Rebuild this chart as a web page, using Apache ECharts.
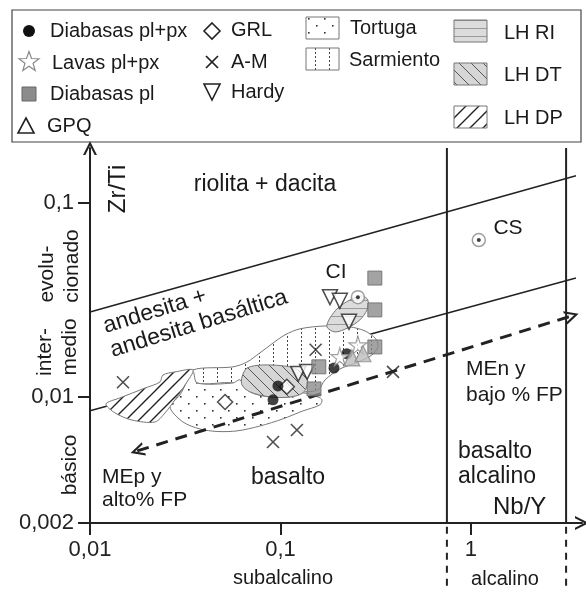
<!DOCTYPE html>
<html><head><meta charset="utf-8">
<script src="https://cdn.jsdelivr.net/npm/echarts@6/dist/echarts.min.js"></script>
<style>html,body{margin:0;padding:0;background:#fff}#c{width:586px;height:592px}</style>
</head><body><div id="c"></div>
<script>
// ---------- DATA (Nb/Y, Zr/Ti) ----------
const diabasasPlPx = [[0.097,0.0114],[0.0914,0.00966],[0.191,0.0141],[0.223,0.0167]];
const lavasPlPx    = [[0.205,0.0161],[0.255,0.0185]];
const diabasasPl   = [[0.313,0.041],[0.313,0.0281],[0.313,0.0181],[0.159,0.0143],[0.150,0.0110]];
const gpq          = [[0.237,0.0159],[0.271,0.0167]];
const grl          = [[0.0512,0.00942],[0.108,0.01128]];
const aM           = [[0.0149,0.0119],[0.0914,0.00586],[0.122,0.00676],[0.153,0.0175],[0.390,0.01346]];
const hardy        = [[0.182,0.0327],[0.205,0.0313],[0.229,0.0244],[0.124,0.01315],[0.138,0.01346]];
const refCI        = [[0.255,0.0327]];
const refCS        = [[1.10,0.0644]];

// field outlines, in log10(Nb/Y), log10(Zr/Ti)
const fieldLHDP_log = [[-1.916,-2.036],[-1.843,-2.005],[-1.711,-1.954],[-1.633,-1.923],[-1.617,-1.887],[-1.554,-1.871],[-1.459,-1.861],[-1.501,-1.938],[-1.554,-2.015],[-1.606,-2.082],[-1.659,-2.129],[-1.780,-2.119],[-1.869,-2.082]];
const fieldSarmiento_log = [[-1.459,-1.861],[-1.249,-1.845],[-1.176,-1.820],[-1.108,-1.773],[-1.039,-1.722],[-0.976,-1.680],[-0.898,-1.649],[-0.766,-1.634],[-0.635,-1.639],[-0.556,-1.660],[-0.499,-1.701],[-0.488,-1.742],[-0.520,-1.784],[-0.593,-1.820],[-0.688,-1.856],[-0.766,-1.912],[-0.803,-1.964],[-0.898,-1.974],[-1.160,-1.974],[-1.249,-1.928],[-1.438,-1.928]];
const fieldTortuga_log = [[-1.459,-1.871],[-1.438,-1.928],[-1.249,-1.928],[-1.213,-1.912],[-1.160,-1.974],[-1.055,-2.000],[-0.950,-2.000],[-0.882,-1.979],[-0.803,-2.000],[-0.782,-2.015],[-0.793,-2.041],[-0.882,-2.072],[-0.987,-2.113],[-1.108,-2.150],[-1.228,-2.175],[-1.333,-2.178],[-1.423,-2.165],[-1.512,-2.129],[-1.580,-2.052],[-1.528,-1.990]];
const fieldLHDT_log = [[-1.202,-1.897],[-1.176,-1.851],[-1.092,-1.835],[-0.950,-1.845],[-0.882,-1.876],[-0.856,-1.923],[-0.882,-1.979],[-0.950,-2.000],[-1.055,-2.000],[-1.160,-1.974],[-1.202,-1.938]];
const fieldLHRI_log = [[-0.756,-1.639],[-0.740,-1.593],[-0.698,-1.541],[-0.635,-1.500],[-0.572,-1.479],[-0.541,-1.500],[-0.546,-1.552],[-0.583,-1.603],[-0.646,-1.644],[-0.714,-1.665]];

// boundaries (Nb/Y, Zr/Ti)
const upperBoundary = [[0.01,0.0274],[3.56,0.138]];
const lowerBoundary = [[0.01,0.00848],[3.56,0.041]];
const upperTickDash = [[0.00473,0.0274],[0.01,0.0274]];
const lowerTickDash = [[0.00473,0.00848],[0.01,0.00848]];
const alkaliLine1 = [[0.748,0.00224],[0.748,0.192]];
const alkaliLine2 = [[3.16,0.00224],[3.16,0.192]];
const alkaliDash1 = [[0.748,0.00214],[0.748,0.00099]];
const alkaliDash2 = [[3.16,0.00214],[3.16,0.00099]];
const trendArrow  = [[0.0177,0.00527],[3.39,0.0262]];

// axes
const xTickVals = [0.01, 0.1, 1];
const xTickLabels = ['0,01','0,1','1'];
const yAxisBottom = 0.00224, yAxisTop = 0.192;
const yTickVals = [yAxisBottom, 0.01, 0.1];
const yTickLabels = ['0,002','0,01','0,1'];
const xAxisMin = 0.01, xAxisMax = 3.83;

// ---------- CHART ----------
const L = p => [Math.log10(p[0]), Math.log10(p[1])];
const FONT = 'Liberation Sans, Arial, sans-serif';
const chevron = 'path://M0,12 L6,0 L12,12 L10,12 L6,4 L2,12 Z';
const starPath = 'path://M50,2 L61,37 L98,37 L68,59 L79,95 L50,73 L21,95 L32,59 L2,37 L39,37 Z';
const xPath = 'path://M0,0 L10,10 M10,0 L0,10';

function pat(w,h,bg,draw){const c=document.createElement('canvas');c.width=w;c.height=h;const g=c.getContext('2d');g.fillStyle=bg;g.fillRect(0,0,w,h);draw(g);return {image:c,repeat:'repeat'};}
const patDP = pat(13,13,'#fff',g=>{g.strokeStyle='#222';g.lineWidth=1.4;g.beginPath();g.moveTo(0,13);g.lineTo(13,0);g.moveTo(-3,3);g.lineTo(3,-3);g.moveTo(10,16);g.lineTo(16,10);g.stroke();});
const patDT = pat(12,12,'#d6d6d6',g=>{g.strokeStyle='#555';g.lineWidth=1;g.beginPath();g.moveTo(0,0);g.lineTo(12,12);g.moveTo(-3,9);g.lineTo(3,15);g.moveTo(9,-3);g.lineTo(15,3);g.stroke();});
const patRI = pat(8,8,'#dcdcdc',g=>{g.fillStyle='#9a9a9a';g.fillRect(0,4,8,1);});
const patSar = pat(14,4,'#fff',g=>{g.fillStyle='#444';g.fillRect(7,0,1,2);});
const patTor = pat(16,14,'#fff',g=>{g.fillStyle='#333';g.fillRect(4,4,1.6,1.6);g.fillRect(12,11,1.6,1.6);});

function lineS(data, opt){
  return Object.assign({type:'line', data:data.map(L), symbol:'none', silent:true, z:1, animation:false,
    lineStyle:{color:'#222', width:1.6}}, opt||{});
}
function field(name, pts, fill, z){
  return {type:'custom', name, z, silent:true, animation:false, data:[[pts[0][0],pts[0][1]]],
    renderItem(params, api){
      return {type:'polygon', shape:{points:pts.map(p=>api.coord(p)), smooth:0.3},
        style:{fill, stroke:'#777', lineWidth:1}};
    }};
}
function scat(name, data, opt){
  return Object.assign({type:'scatter', name, data:data.map(L), z:10, silent:true, animation:false}, opt);
}

const option = {
  animation:false,
  grid:{left:90, top:148, right:4, bottom:69},
  xAxis:{type:'value', min:Math.log10(xAxisMin), max:Math.log10(xAxisMax),
    axisLine:{onZero:false, lineStyle:{color:'#222', width:2}, symbol:['none',chevron], symbolSize:[14,14]},
    axisTick:{customValues:xTickVals.map(Math.log10), length:12, lineStyle:{color:'#222', width:2}},
    axisLabel:{customValues:xTickVals.map(Math.log10), margin:16, fontSize:22, color:'#222', fontFamily:FONT,
      formatter:v=>{const i=xTickVals.findIndex(t=>Math.abs(Math.log10(t)-v)<1e-6);return i<0?'':xTickLabels[i];}},
    splitLine:{show:false}},
  yAxis:{type:'value', min:Math.log10(yAxisBottom), max:Math.log10(yAxisTop),
    axisLine:{onZero:false, lineStyle:{color:'#222', width:2}, symbol:['none',chevron], symbolSize:[14,14]},
    axisTick:{customValues:yTickVals.map(Math.log10), length:12, lineStyle:{color:'#222', width:2}},
    axisLabel:{customValues:yTickVals.map(Math.log10), margin:16, fontSize:22, color:'#222', fontFamily:FONT,
      formatter:v=>{const i=yTickVals.findIndex(t=>Math.abs(Math.log10(t)-v)<1e-6);return i<0?'':yTickLabels[i];}},
    splitLine:{show:false}},
  series:[
    lineS(upperBoundary),
    lineS(lowerBoundary),
    lineS(upperTickDash,{clip:false, lineStyle:{color:'#222', width:2, type:[6,5]}}),
    lineS(lowerTickDash,{clip:false, lineStyle:{color:'#222', width:2, type:[6,5]}}),
    lineS(alkaliLine1,{lineStyle:{color:'#222', width:2}}),
    lineS(alkaliLine2,{lineStyle:{color:'#222', width:2}}),
    lineS(alkaliDash1,{clip:false, lineStyle:{color:'#222', width:2, type:[7,6]}}),
    lineS(alkaliDash2,{clip:false, lineStyle:{color:'#222', width:2, type:[7,6]}}),
    {type:'line', data:[], z:2, silent:true, animation:false,
      markLine:{silent:true, animation:false, symbol:[chevron,chevron], symbolSize:[14,14],
        lineStyle:{color:'#222', width:3, type:[12,8]}, label:{show:false},
        data:[[{coord:L(trendArrow[0])},{coord:L(trendArrow[1])}]]}},
    field('Sarmiento', fieldSarmiento_log, patSar, 3),
    field('Tortuga', fieldTortuga_log, patTor, 4),
    field('LH DT', fieldLHDT_log, patDT, 5),
    field('LH DP', fieldLHDP_log, patDP, 6),
    field('LH RI', fieldLHRI_log, patRI, 7),
    scat('A-M', aM, {symbol:xPath, symbolSize:12, itemStyle:{color:'none', borderColor:'#222', borderWidth:1.6}}),
    scat('Hardy', hardy, {symbol:'triangle', symbolRotate:180, symbolSize:15, itemStyle:{color:'#fff', borderColor:'#222', borderWidth:1.5}}),
    scat('GRL', grl, {symbol:'diamond', symbolSize:15, itemStyle:{color:'#fff', borderColor:'#222', borderWidth:1.5}}),
    scat('Diabasas pl', diabasasPl, {symbol:'rect', symbolSize:14, itemStyle:{color:'#8c8c8c', borderColor:'#666', borderWidth:1}}),
    scat('Diabasas pl+px', diabasasPlPx, {symbol:'circle', symbolSize:11, itemStyle:{color:'#111'}}),
    scat('Lavas pl+px', lavasPlPx, {symbol:starPath, symbolSize:18, itemStyle:{color:'#fff', borderColor:'#888', borderWidth:1.2}}),
    scat('GPQ', gpq, {symbol:'triangle', symbolSize:16, itemStyle:{color:'#bdbdbd', borderColor:'#888', borderWidth:1.2}}),
    scat('CI/CS ring', refCI.concat(refCS), {symbol:'circle', symbolSize:13, itemStyle:{color:'#fff', borderColor:'#888', borderWidth:1.5}}),
    scat('CI/CS dot', refCI.concat(refCS), {symbol:'circle', symbolSize:4, z:11, itemStyle:{color:'#111'}})
  ]
};

// ---------- TEXT & LEGEND (graphic) ----------
function T(text, x, y, size, opt){
  const o = opt||{};
  return Object.assign({type:'text', x, y, z:100, silent:true}, o,
    {style:Object.assign({text, fontSize:size, fontFamily:FONT, fill:'#1a1a1a', textAlign:'center', textVerticalAlign:'middle'}, o.style||{})});
}
const TL = (text,x,y,size,opt) => T(text,x,y,size,Object.assign({},opt||{},{style:Object.assign({textAlign:'left'},(opt&&opt.style)||{})}));
const R90 = Math.PI/2;
function starPts(cx,cy,R,r){const p=[];for(let i=0;i<10;i++){const a=-Math.PI/2+i*Math.PI/5;const rr=i%2?r:R;p.push([cx+rr*Math.cos(a),cy+rr*Math.sin(a)]);}return p;}
const G = (type, shape, style) => ({type, z:100, silent:true, shape, style});
const gfx = [
  G('rect',{x:12,y:10,width:569,height:132},{fill:'none', stroke:'#444', lineWidth:1.2}),
  // col 1
  G('circle',{cx:29,cy:31,r:6},{fill:'#111'}),
  TL('Diabasas pl+px',50,31,20),
  G('polygon',{points:starPts(29,62,10.5,4.3)},{fill:'#fff', stroke:'#888', lineWidth:1.2}),
  TL('Lavas pl+px',52,63,20),
  G('rect',{x:22,y:87,width:14,height:14},{fill:'#8c8c8c', stroke:'#666', lineWidth:1}),
  TL('Diabasas pl',50,94,20),
  G('polygon',{points:[[26,118],[34,133],[18,133]]},{fill:'none', stroke:'#222', lineWidth:1.6}),
  TL('GPQ',47,126,20),
  // col 2
  G('polygon',{points:[[212,23],[220,31],[212,39],[204,31]]},{fill:'#fff', stroke:'#222', lineWidth:1.6}),
  TL('GRL',231,30,20),
  G('polyline',{points:[[206,56],[218,68]]},{stroke:'#222', lineWidth:1.7}),
  G('polyline',{points:[[218,56],[206,68]]},{stroke:'#222', lineWidth:1.7}),
  TL('A-M',231,62,20),
  G('polygon',{points:[[204,84],[220,84],[212,100]]},{fill:'#fff', stroke:'#222', lineWidth:1.6}),
  TL('Hardy',231,92,20),
  // col 3
  G('rect',{x:306,y:17,width:33,height:22},{fill:patTor, stroke:'#777', lineWidth:1}),
  TL('Tortuga',350,28,20),
  G('rect',{x:306,y:48,width:33,height:22},{fill:patSar, stroke:'#777', lineWidth:1}),
  TL('Sarmiento',349,60,20),
  // col 4
  G('rect',{x:454,y:20,width:33,height:22},{fill:patRI, stroke:'#777', lineWidth:1}),
  TL('LH RI',504,33,20),
  G('rect',{x:454,y:63,width:33,height:22},{fill:patDT, stroke:'#777', lineWidth:1}),
  TL('LH DT',504,75,20),
  G('rect',{x:454,y:106,width:33,height:22},{fill:patDP, stroke:'#777', lineWidth:1}),
  TL('LH DP',504,118,20),
  // plot texts
  T('riolita + dacita',265,185,23),
  T('CI',336,272,21),
  T('CS',508,228,21),
  TL('andesita +',104,327,23,{rotation:0.3}),
  TL('andesita basáltica',111,351,23,{rotation:0.3}),
  T('basalto',288,478,23),
  TL('MEp y',102,477,21),
  TL('alto% FP',102,500,21),
  TL('MEn y',466,369,21),
  TL('bajo % FP',466,395,21),
  TL('basalto',458,452,23),
  TL('alcalino',458,477,23),
  TL('Nb/Y',493,507,24),
  T('Zr/Ti',118,189,24,{rotation:R90}),
  T('evolu-',47,274,21,{rotation:R90}),
  T('cionado',72,266,21,{rotation:R90}),
  T('inter-',45,352,21,{rotation:R90}),
  T('medio',70,347,21,{rotation:R90}),
  T('básico',70,465,21,{rotation:R90}),
  T('subalcalino',283,578,20),
  T('alcalino',505,579,20)
];
option.graphic = {elements: gfx};

const chart = echarts.init(document.getElementById('c'), null, {renderer:'canvas'});
chart.setOption(option);
</script></body></html>
